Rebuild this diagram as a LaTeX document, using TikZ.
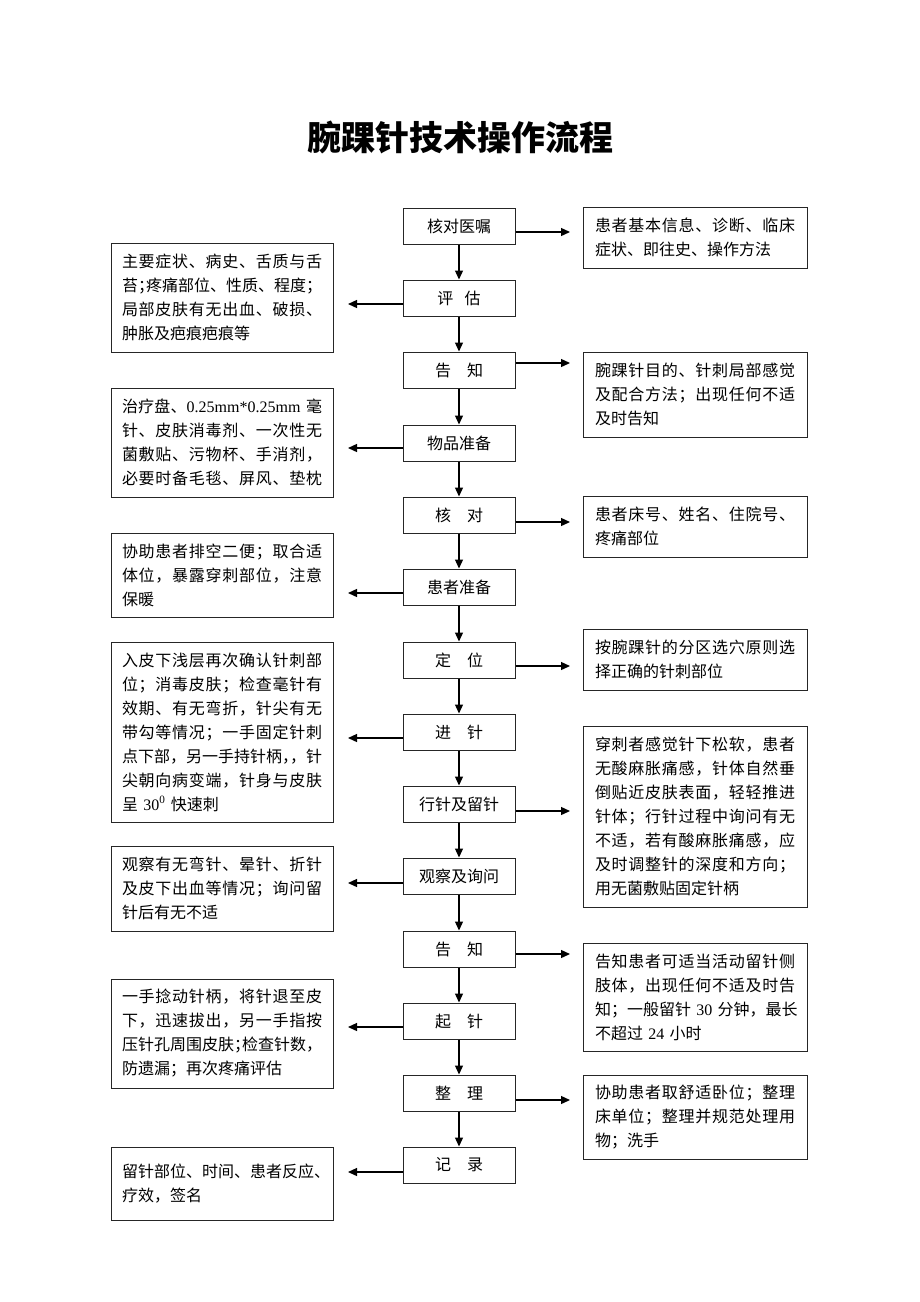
\documentclass[tikz,border=0pt]{standalone}
\usepackage{fontspec}
\setmainfont{Noto Sans CJK SC}
\newfontfamily\lat{Liberation Serif}
\usetikzlibrary{arrows.meta}
\hfuzz=2pt
\newlength\jw \setlength\jw{200pt}
\def\jlend{}
\def\jlendmark{\jlend}
\newcommand\jl[1]{\makebox[\jw][s]{\jlfirst#1\jlend}}
\def\jlfirst#1{#1\jlloop}
\def\jlloop#1{\def\jltmp{#1}\ifx\jltmp\jlendmark\else\hfill#1\expandafter\jlloop\fi}
\newcommand\cp[1]{#1\hspace{-0.5em}}
\tikzset{
 mbox/.style={draw=black!85, line width=1pt, minimum width=112pt, minimum height=36pt, inner sep=0pt, font=\fontsize{16}{18}\selectfont},
 lbox/.style={draw=black!85, line width=1pt, text width=200pt, inner xsep=11pt, inner ysep=0pt, align=left, font=\fontsize{16}{24}\selectfont},
 rbox/.style={lbox, inner xsep=12pt},
 arr/.style={line width=1.3pt, -{Triangle[length=9pt,width=8pt]}},
}
\begin{document}
\begin{tikzpicture}[x=1pt,y=-1pt]
\useasboundingbox (0,0) rectangle (920,1302);
\node (title) at (460,137) {\fontsize{34}{34}\selectfont\bfseries 腕踝针技术操作流程};
% main column
\node[mbox] (m1) at (459,226) {核对医嘱};
\node[mbox] (m2) at (459,298) {评\hspace{0.7em}估};
\node[mbox] (m3) at (459,370) {告\hspace{1em}知};
\node[mbox] (m4) at (459,443) {物品准备};
\node[mbox] (m5) at (459,515) {核\hspace{1em}对};
\node[mbox] (m6) at (459,587) {患者准备};
\node[mbox] (m7) at (459,660) {定\hspace{1em}位};
\node[mbox] (m8) at (459,732) {进\hspace{1em}针};
\node[mbox] (m9) at (459,804) {行针及留针};
\node[mbox] (m10) at (459,876) {观察及询问};
\node[mbox] (m11) at (459,949) {告\hspace{1em}知};
\node[mbox] (m12) at (459,1021) {起\hspace{1em}针};
\node[mbox] (m13) at (459,1093) {整\hspace{1em}理};
\node[mbox] (m14) at (459,1165) {记\hspace{1em}录};
\foreach \a/\b in {m1/m2,m2/m3,m3/m4,m4/m5,m5/m6,m6/m7,m7/m8,m8/m9,m9/m10,m10/m11,m11/m12,m12/m13,m13/m14}
  \draw[arr] (\a.south) -- (\b.north);
% left boxes
\node[lbox, minimum height=109pt] (l1) at (222,297.5) {\jl{主要症状、病史、舌质与舌}\\\jl{苔{{\cp{；}}}疼痛部位、性质、程度；}\\\jl{局部皮肤有无出血、破损、}\\肿胀及疤痕疤痕等};
\node[lbox, minimum height=109pt] (l2) at (222,442.5) {\jl{治疗盘、{{\lat 0.25mm*0.25mm\ }}毫}\\\jl{针、皮肤消毒剂、一次性无}\\\jl{菌敷贴、污物杯、手消剂，}\\\jl{必要时备毛毯、屏风、垫枕}};
\node[lbox, minimum height=84pt] (l3) at (222,575) {\jl{协助患者排空二便；取合适}\\\jl{体位，暴露穿刺部位，注意}\\保暖};
\node[lbox, minimum height=180pt] (l4) at (222,732) {\jl{入皮下浅层再次确认针刺部}\\\jl{位；消毒皮肤；检查毫针有}\\\jl{效期、有无弯折，针尖有无}\\\jl{带勾等情况；一手固定针刺}\\\jl{点下部，另一手持针柄{{\cp{，}}}，针}\\\jl{尖朝向病变端，针身与皮肤}\\呈 {\lat 30\textsuperscript{0}} 快速刺};
\node[lbox, minimum height=85pt] (l5) at (222,888.5) {\jl{观察有无弯针、晕针、折针}\\\jl{及皮下出血等情况；询问留}\\针后有无不适};
\node[lbox, minimum height=109pt] (l6) at (222,1033.5) {\jl{一手捻动针柄，将针退至皮}\\\jl{下，迅速拔出，另一手指按}\\\jl{压针孔周围皮肤{{\cp{；}}}检查针数，}\\防遗漏；再次疼痛评估};
\node[lbox, minimum height=73pt] (l7) at (222,1183.5) {\jl{留针部位、时间、患者反应{{\cp{、}}}}\\疗效，签名};
% right boxes
\node[rbox, minimum height=61pt] (r1) at (695,237.5) {\jl{患者基本信息、诊断、临床}\\症状、即往史、操作方法};
\node[rbox, minimum height=85pt] (r2) at (695,394.5) {\jl{腕踝针目的、针刺局部感觉}\\\jl{及配合方法；出现任何不适}\\及时告知};
\node[rbox, minimum height=61pt] (r3) at (695,526.5) {\jl{患者床号、姓名、住院号、}\\疼痛部位};
\node[rbox, minimum height=61pt] (r4) at (695,659.5) {\jl{按腕踝针的分区选穴原则选}\\择正确的针刺部位};
\node[rbox, minimum height=181pt] (r5) at (695,816.5) {\jl{穿刺者感觉针下松软，患者}\\\jl{无酸麻胀痛感，针体自然垂}\\\jl{倒贴近皮肤表面，轻轻推进}\\\jl{针体；行针过程中询问有无}\\\jl{不适，若有酸麻胀痛感，应}\\\jl{及时调整针的深度和方向；}\\用无菌敷贴固定针柄};
\node[rbox, minimum height=108pt] (r6) at (695,997) {\jl{告知患者可适当活动留针侧}\\\jl{肢体，出现任何不适及时告}\\\jl{知；一般留针{{\lat\ 30\ }}分钟，最长}\\不超过 {\lat 24} 小时};
\node[rbox, minimum height=84pt] (r7) at (695,1117) {\jl{协助患者取舒适卧位；整理}\\\jl{床单位；整理并规范处理用}\\物；洗手};
% side arrow ends
\coordinate (ra1) at (570,232);
\coordinate (ra2) at (570,363);
\coordinate (ra3) at (570,522);
\coordinate (ra4) at (570,666);
\coordinate (ra5) at (570,811);
\coordinate (ra6) at (570,954);
\coordinate (ra7) at (570,1100);
\coordinate (la1) at (348,304);
\coordinate (la2) at (348,448);
\coordinate (la3) at (348,593);
\coordinate (la4) at (348,738);
\coordinate (la5) at (348,883);
\coordinate (la6) at (348,1027);
\coordinate (la7) at (348,1172);
\foreach \m/\c in {m1/ra1,m3/ra2,m5/ra3,m7/ra4,m9/ra5,m11/ra6,m13/ra7}
  \draw[arr] (\m.east |- \c) -- (\c);
\foreach \m/\c in {m2/la1,m4/la2,m6/la3,m8/la4,m10/la5,m12/la6,m14/la7}
  \draw[arr] (\m.west |- \c) -- (\c);
\end{tikzpicture}
\end{document}
